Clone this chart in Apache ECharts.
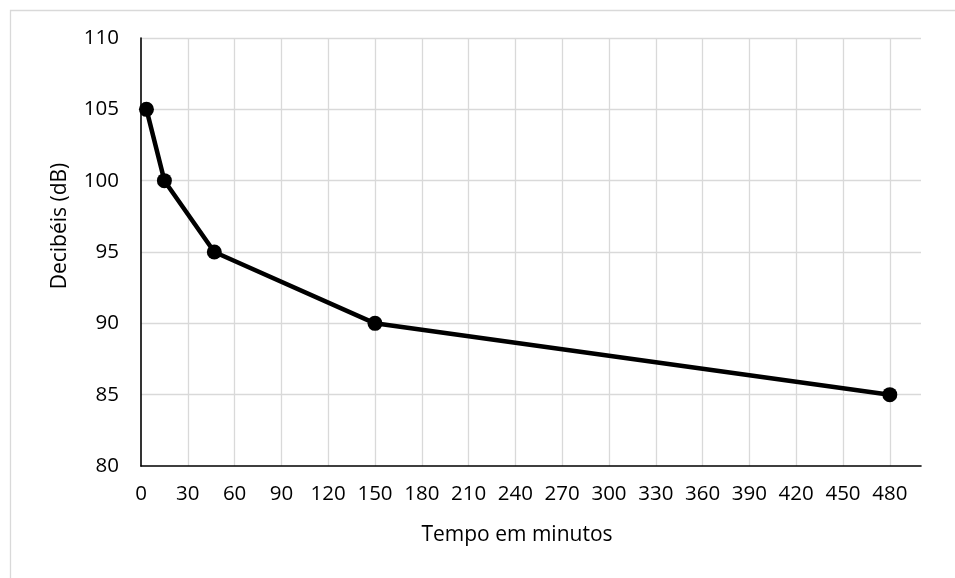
<!DOCTYPE html>
<html>
<head>
<meta charset="utf-8">
<script src="https://cdn.jsdelivr.net/npm/echarts@6/dist/echarts.min.js"></script>
<style>html,body{margin:0;padding:0;background:#fff}#c{width:955px;height:578px}</style>
</head>
<body>
<div id="c"></div>
<script>
var minutes = [3.5, 15, 47, 150, 480];
var decibels = [105, 100, 95, 90, 85];
var xTitle = 'Tempo em minutos';
var yTitle = 'Decibéis (dB)';

var font = 'Open Sans';
var chart = echarts.init(document.getElementById('c'));
chart.setOption({
  animation: false,
  backgroundColor: '#fff',
  grid: { left: 141, right: 34, top: 38, bottom: 112 },
  graphic: [
    { type: 'rect', left: 8, top: 8, shape: { width: 980, height: 620 }, style: { fill: 'none', stroke: '#d9d9d9', lineWidth: 1.3 }, silent: true, z: -1 },
    { type: 'text', x: 517, y: 535, style: { text: xTitle, fontSize: 21, fontFamily: font, fill: '#000', align: 'center', verticalAlign: 'middle' } },
    { type: 'text', x: 60, y: 226, rotation: Math.PI / 2, style: { text: yTitle, fontSize: 21, fontFamily: font, fill: '#000', align: 'center', verticalAlign: 'middle' } }
  ],
  xAxis: {
    type: 'value', min: 0, max: 500, interval: 30,
    axisLine: { show: true, onZero: false, lineStyle: { color: '#000', width: 1.6 } },
    axisTick: { show: false },
    axisLabel: { show: true, color: '#000', fontSize: 20.5, fontFamily: font, margin: 18, showMaxLabel: false,
      formatter: function (v) { return v > 480 ? '' : String(v); } },
    splitLine: { show: true, showMaxLine: false, showMinLine: false, lineStyle: { color: '#d9d9d9', width: 1.3 } }
  },
  yAxis: {
    type: 'value', min: 80, max: 110, interval: 5,
    axisLine: { show: true, lineStyle: { color: '#000', width: 1.6 } },
    axisTick: { show: false },
    axisLabel: { color: '#000', fontSize: 20.5, fontFamily: font, margin: 22 },
    splitLine: { show: true, showMinLine: false, lineStyle: { color: '#d9d9d9', width: 1.3 } }
  },
  series: [{
    type: 'line',
    data: minutes.map(function (m, i) { return [m, decibels[i]]; }),
    symbol: 'circle', symbolSize: 15,
    lineStyle: { color: '#000', width: 4.5 },
    itemStyle: { color: '#000' },
    clip: false
  }]
});
</script>
</body>
</html>
